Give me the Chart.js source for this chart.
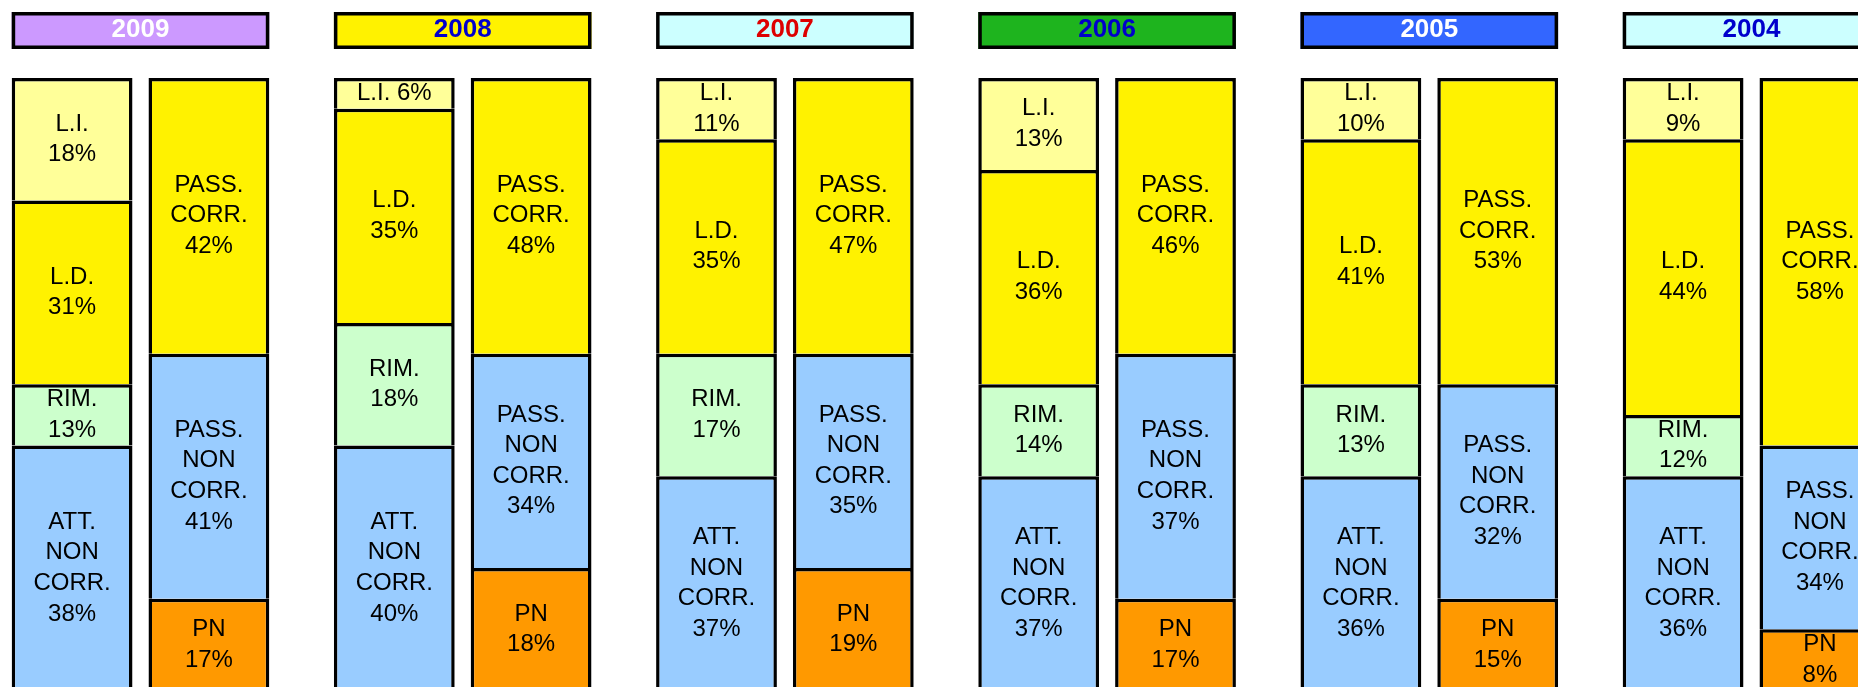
<!DOCTYPE html>
<html><head><meta charset="utf-8">
<script src="https://cdn.jsdelivr.net/npm/chart.js@4/dist/chart.umd.min.js"></script>
<style>
html,body{margin:0;padding:0;overflow:hidden;background:#fff;width:1858px;height:687px;}
#wrap{position:absolute;left:-40px;top:0;width:1980px;height:720px;}
canvas{display:block;}
</style></head><body>
<div id="wrap"><canvas id="c" width="1980" height="720" style="width:1980px;height:720px"></canvas></div>
<script>
// ---- data ----
const years = ['2009', '2008', '2007', '2006', '2005', '2004'];

// printed percentages
const pctLI   = [18,  6, 11, 13, 10,  9];
const pctLD   = [31, 35, 35, 36, 41, 44];
const pctRIM  = [13, 18, 17, 14, 13, 12];
const pctATT  = [38, 40, 37, 37, 36, 36];
const pctPC   = [42, 48, 47, 46, 53, 58];
const pctPNC  = [41, 34, 35, 37, 32, 34];
const pctPN   = [17, 18, 19, 17, 15,  8];

// drawn shares (the bars are built from 5% blocks)
const shareLI  = [20,  5, 10, 15, 10, 10];
const shareLD  = [30, 35, 35, 35, 40, 45];
const shareRIM = [10, 20, 20, 15, 15, 10];
const shareATT = [40, 40, 35, 35, 35, 35];
const sharePC  = [45, 45, 45, 45, 50, 60];
const sharePNC = [40, 35, 35, 40, 35, 30];
const sharePN  = [15, 20, 20, 15, 15, 10];

// ---- styles ----
const headerBg = ['#CC99FF', '#FFF200', '#CCFFFF', '#1EB41E', '#3366FF', '#CCFFFF'];
const headerFg = ['#FFFFFF', '#0000CC', '#DD0000', '#0000CC', '#FFFFFF', '#0000CC'];
const COL = { li: '#FFFF99', ld: '#FFF200', rim: '#CCFFCC', blue: '#99CCFF', pn: '#FF9900' };
const FONT = '"Liberation Sans", Arial, sans-serif';
const LINE_W = 3.5;

function ds(label, data, pct, lines, color, stack) {
  return { label, data, pct, lines, stack, backgroundColor: color, borderColor: '#000000',
           borderWidth: LINE_W, borderSkipped: 'start' };
}

const datasets = [
  ds('ATT. NON CORR.', shareATT, pctATT, ['ATT.', 'NON', 'CORR.'], COL.blue, 'L'),
  ds('RIM.', shareRIM, pctRIM, ['RIM.'], COL.rim, 'L'),
  ds('L.D.', shareLD, pctLD, ['L.D.'], COL.ld, 'L'),
  ds('L.I.', shareLI, pctLI, ['L.I.'], COL.li, 'L'),
  ds('PN', sharePN, pctPN, ['PN'], COL.pn, 'R'),
  ds('PASS. NON CORR.', sharePNC, pctPNC, ['PASS.', 'NON', 'CORR.'], COL.blue, 'R'),
  ds('PASS. CORR.', sharePC, pctPC, ['PASS.', 'CORR.'], COL.ld, 'R')
];

const labelPlugin = {
  id: 'segLabels',
  afterDatasetsDraw(chart) {
    const ctx = chart.ctx, ys = chart.scales.y;
    const row = Math.abs(ys.getPixelForValue(0) - ys.getPixelForValue(5));
    ctx.save();
    ctx.font = '24px ' + FONT;
    ctx.fillStyle = '#000';
    ctx.textAlign = 'center';
    ctx.textBaseline = 'middle';
    chart.data.datasets.forEach((d, i) => {
      chart.getDatasetMeta(i).data.forEach((bar, j) => {
        const p = bar.getProps(['x', 'y', 'base'], true);
        let lines = d.lines.concat([d.pct[j] + '%']);
        if (Math.abs(p.base - p.y) < 1.5 * row) lines = [lines.join(' ')];
        const cy = (p.y + p.base) / 2;
        lines.forEach((t, k) => ctx.fillText(t, p.x, cy + (k - (lines.length - 1) / 2) * row));
      });
    });
    ctx.restore();
  }
};

const headerPlugin = {
  id: 'yearHeaders',
  afterDraw(chart) {
    const ctx = chart.ctx;
    const mL = chart.getDatasetMeta(0), mR = chart.getDatasetMeta(4);
    const top = chart.chartArea.top - 66, h = 37;
    ctx.save();
    chart.data.labels.forEach((yr, j) => {
      const l = mL.data[j].getProps(['x', 'width'], true);
      const r = mR.data[j].getProps(['x', 'width'], true);
      const x0 = l.x - l.width / 2, x1 = r.x + r.width / 2;
      ctx.fillStyle = headerBg[j];
      ctx.fillRect(x0, top, x1 - x0, h);
      ctx.lineWidth = LINE_W;
      ctx.strokeStyle = '#000';
      ctx.strokeRect(x0 + LINE_W / 2, top + LINE_W / 2, x1 - x0 - LINE_W, h - LINE_W);
      ctx.fillStyle = headerFg[j];
      ctx.font = 'bold 26px ' + FONT;
      ctx.textAlign = 'center';
      ctx.textBaseline = 'middle';
      ctx.fillText(yr, (x0 + x1) / 2, top + h / 2 - 0.5);
    });
    ctx.restore();
  }
};

new Chart(document.getElementById('c'), {
  type: 'bar',
  data: { labels: years, datasets },
  options: {
    responsive: false,
    devicePixelRatio: 1,
    animation: false,
    events: [],
    categoryPercentage: 0.8492,
    barPercentage: 0.883,
    layout: { padding: { left: 19.4, right: 27.4, top: 78, bottom: 29.5 } },
    plugins: { legend: { display: false }, tooltip: { enabled: false }, title: { display: false } },
    scales: {
      x: { display: false, stacked: true },
      y: { display: false, stacked: true, min: 0, max: 100 }
    }
  },
  plugins: [labelPlugin, headerPlugin]
});
</script>
</body></html>
